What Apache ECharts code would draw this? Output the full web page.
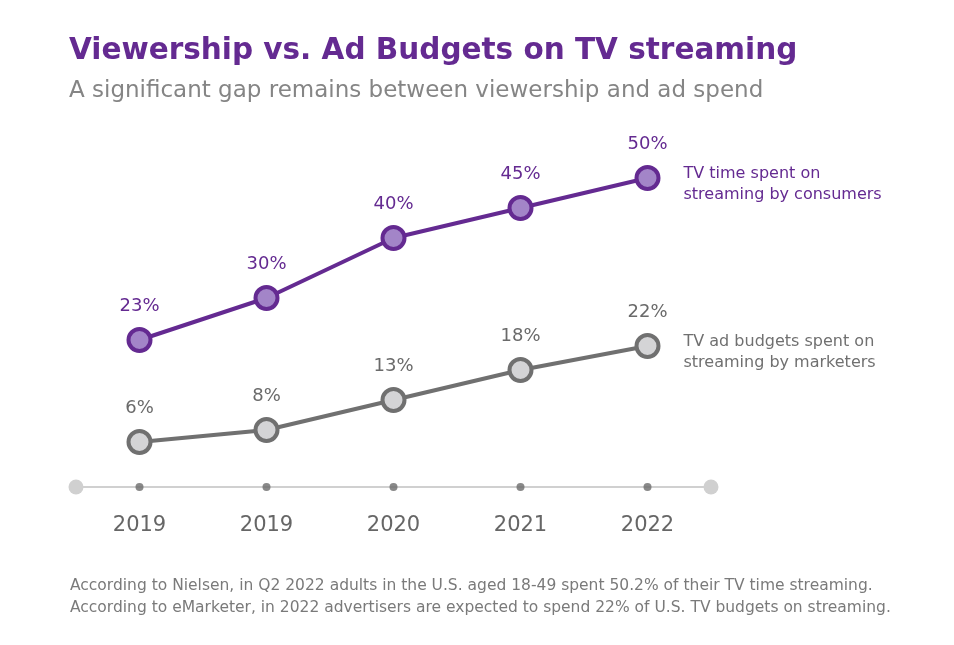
<!DOCTYPE html>
<html>
<head>
<meta charset="utf-8">
<script src="https://cdn.jsdelivr.net/npm/echarts@6/dist/echarts.min.js"></script>
<style>html,body{margin:0;padding:0;background:#fff}#c{width:954px;height:645px}</style>
</head>
<body>
<div id="c"></div>
<script>
var categories = ['2019', '2019', '2020', '2021', '2022'];
var viewership = [23, 30, 40, 45, 50];
var adBudgets = [6, 8, 13, 18, 22];
var seriesNames = ['TV time spent on\nstreaming by consumers', 'TV ad budgets spent on\nstreaming by marketers'];
var titleText = 'Viewership vs. Ad Budgets on TV streaming';
var subtitleText = 'A significant gap remains between viewership and ad spend';
var footnotes = [
  'According to Nielsen, in Q2 2022 adults in the U.S. aged 18-49 spent 50.2% of their TV time streaming.',
  'According to eMarketer, in 2022 advertisers are expected to spend 22% of U.S. TV budgets on streaming.'
];
var yMin = -1.5, yMax = 58.5;

var FONT = 'DejaVu Sans';
var PURPLE = '#642a91';
var PURPLE_FILL = '#a385c8';
var GRAY = '#707070';
var GRAY_FILL = '#d4d4d6';

var chart = echarts.init(document.getElementById('c'), null, {renderer: 'canvas'});
function lineSeries(name, data, color, fill, labelColor) {
  return {
    type: 'line', name: name, data: data,
    symbol: 'circle', symbolSize: 22,
    lineStyle: {color: color, width: 4},
    itemStyle: {color: fill, borderColor: color, borderWidth: 4},
    label: {show: true, position: 'top', distance: 12, formatter: '{c}%', color: labelColor,
      fontFamily: FONT, fontSize: 18},
    endLabel: {show: true, formatter: function (p) { return p.seriesName; }, distance: 36,
      color: color, fontFamily: FONT, fontSize: 16, lineHeight: 21, offset: [0, 6]},
    emphasis: {disabled: true}, animation: false, z: 3
  };
}
chart.setOption({
  backgroundColor: '#ffffff',
  animation: false,
  title: [
    {text: titleText, left: 64, top: 31, textStyle: {fontFamily: FONT, fontSize: 29.5, fontWeight: 'bold', color: PURPLE}},
    {text: subtitleText, left: 64, top: 75, textStyle: {fontFamily: FONT, fontSize: 23, fontWeight: 'normal', color: '#858585'}},
    {text: footnotes.join('\n'), left: 65, top: 570, textStyle: {fontFamily: FONT, fontSize: 15.5, fontWeight: 'normal', color: '#7a7a7a', lineHeight: 22}}
  ],
  grid: {left: 76, width: 635, top: 127, height: 360},
  xAxis: {
    type: 'category', data: categories, boundaryGap: true,
    axisLine: {show: true, onZero: false, lineStyle: {color: '#d0d0d0', width: 2}, symbol: ['circle', 'circle'], symbolSize: [15, 15]},
    axisTick: {show: false},
    axisLabel: {color: '#666666', fontFamily: FONT, fontSize: 21, margin: 28}
  },
  yAxis: {type: 'value', min: yMin, max: yMax, show: false, splitLine: {show: false}},
  series: [
    lineSeries(seriesNames[0], viewership, PURPLE, PURPLE_FILL, PURPLE),
    lineSeries(seriesNames[1], adBudgets, GRAY, GRAY_FILL, '#6a6a6a'),
    {type: 'scatter', data: categories.map(function () { return yMin; }), symbolSize: 8,
      itemStyle: {color: '#6b6b6b'}, silent: true, z: 2}
  ]
});
</script>
</body>
</html>
